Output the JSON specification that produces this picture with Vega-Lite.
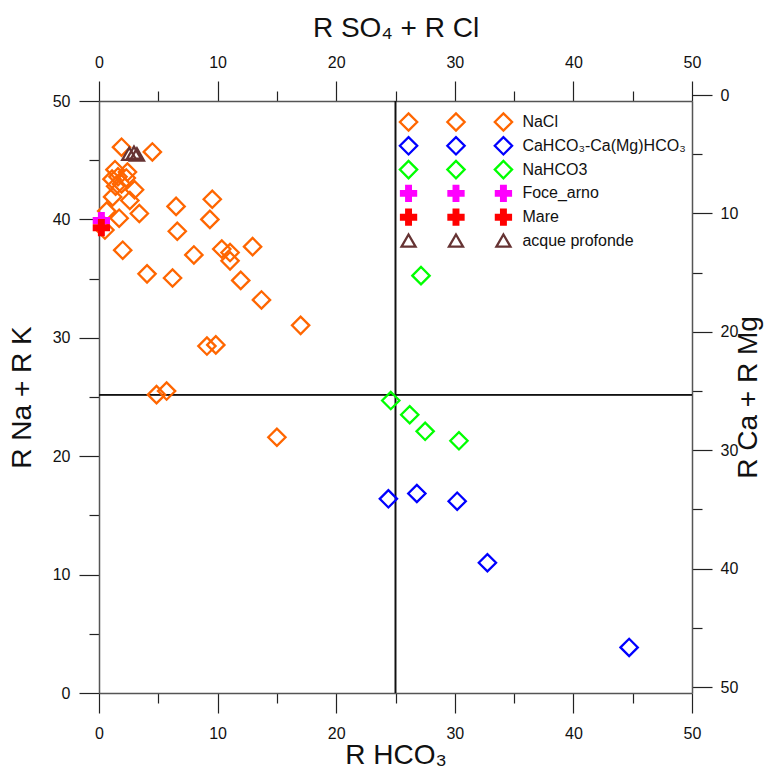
{
  "$schema": "https://vega.github.io/schema/vega-lite/v6.json",
  "width": 593,
  "height": 592,
  "autosize": {"type": "none"},
  "padding": {"left": 99, "top": 101, "right": 81, "bottom": 80},
  "background": "white",
  "config": {
    "view": {"stroke": null},
    "font": "Liberation Sans",
    "axis": {
      "grid": false,
      "domainColor": "#555555",
      "domainWidth": 1.5,
      "tickColor": "#222222",
      "tickWidth": 1.2,
      "labelFont": "Liberation Sans",
      "labelFontSize": 16,
      "labelColor": "#111111",
      "labelFlush": false,
      "titleFont": "Liberation Sans",
      "titleFontSize": 28,
      "titleFontWeight": "normal",
      "titleColor": "#111111"
    }
  },
  "datasets": {
    "points": [
      {"series": "NaCl", "hco3": 1.9, "nak": 46.1},
      {"series": "NaCl", "hco3": 4.5, "nak": 45.7},
      {"series": "NaCl", "hco3": 1.35, "nak": 44.2},
      {"series": "NaCl", "hco3": 2.4, "nak": 44.0},
      {"series": "NaCl", "hco3": 1.1, "nak": 43.4},
      {"series": "NaCl", "hco3": 1.6, "nak": 43.6},
      {"series": "NaCl", "hco3": 1.9, "nak": 43.0},
      {"series": "NaCl", "hco3": 2.3, "nak": 43.5},
      {"series": "NaCl", "hco3": 1.4, "nak": 42.8},
      {"series": "NaCl", "hco3": 3.0, "nak": 42.5},
      {"series": "NaCl", "hco3": 1.15, "nak": 41.9},
      {"series": "NaCl", "hco3": 2.6, "nak": 41.6},
      {"series": "NaCl", "hco3": 3.4, "nak": 40.5},
      {"series": "NaCl", "hco3": 6.5, "nak": 41.1},
      {"series": "NaCl", "hco3": 9.55, "nak": 41.7},
      {"series": "NaCl", "hco3": 9.35, "nak": 40.0},
      {"series": "NaCl", "hco3": 1.7, "nak": 40.1},
      {"series": "NaCl", "hco3": 0.65, "nak": 40.7},
      {"series": "NaCl", "hco3": 0.5, "nak": 39.1},
      {"series": "NaCl", "hco3": 6.6, "nak": 39.0},
      {"series": "NaCl", "hco3": 2.0, "nak": 37.4},
      {"series": "NaCl", "hco3": 8.0, "nak": 37.0},
      {"series": "NaCl", "hco3": 10.35, "nak": 37.5},
      {"series": "NaCl", "hco3": 11.05, "nak": 37.2},
      {"series": "NaCl", "hco3": 11.05, "nak": 36.5},
      {"series": "NaCl", "hco3": 12.95, "nak": 37.7},
      {"series": "NaCl", "hco3": 4.05, "nak": 35.4},
      {"series": "NaCl", "hco3": 6.2, "nak": 35.05},
      {"series": "NaCl", "hco3": 11.95, "nak": 34.85},
      {"series": "NaCl", "hco3": 13.7, "nak": 33.2},
      {"series": "NaCl", "hco3": 17.0, "nak": 31.05},
      {"series": "NaCl", "hco3": 9.1, "nak": 29.3},
      {"series": "NaCl", "hco3": 9.85, "nak": 29.4},
      {"series": "NaCl", "hco3": 4.85, "nak": 25.2},
      {"series": "NaCl", "hco3": 5.7, "nak": 25.5},
      {"series": "NaCl", "hco3": 15.0, "nak": 21.6},
      {"series": "CaHCO₃-Ca(Mg)HCO₃", "hco3": 24.4, "nak": 16.4},
      {"series": "CaHCO₃-Ca(Mg)HCO₃", "hco3": 26.8, "nak": 16.85},
      {"series": "CaHCO₃-Ca(Mg)HCO₃", "hco3": 30.2, "nak": 16.2},
      {"series": "CaHCO₃-Ca(Mg)HCO₃", "hco3": 32.75, "nak": 11.0},
      {"series": "CaHCO₃-Ca(Mg)HCO₃", "hco3": 44.7, "nak": 3.85},
      {"series": "NaHCO3", "hco3": 24.6, "nak": 24.7},
      {"series": "NaHCO3", "hco3": 26.2, "nak": 23.5},
      {"series": "NaHCO3", "hco3": 27.5, "nak": 22.1},
      {"series": "NaHCO3", "hco3": 30.35, "nak": 21.3},
      {"series": "NaHCO3", "hco3": 27.15, "nak": 35.25},
      {"series": "acque profonde", "hco3": 2.55, "nak": 45.5},
      {"series": "acque profonde", "hco3": 2.95, "nak": 45.6},
      {"series": "acque profonde", "hco3": 3.2, "nak": 45.45},
      {"series": "Foce_arno", "hco3": 0.2, "nak": 39.9},
      {"series": "Mare", "hco3": 0.2, "nak": 39.3}
    ],
    "legend": [
      {"series": "NaCl"},
      {"series": "CaHCO₃-Ca(Mg)HCO₃"},
      {"series": "NaHCO3"},
      {"series": "Foce_arno"},
      {"series": "Mare"},
      {"series": "acque profonde"}
    ]
  },
  "layer": [
    {
      "data": {"name": "legend"},
      "mark": {"type": "rule", "color": "#111111", "strokeWidth": 1.2},
      "encoding": {
        "x": {
          "datum": 25,
          "type": "quantitative",
          "scale": {"domain": [0, 50], "nice": false},
          "axis": {
            "orient": "top",
            "title": "R SO₄ + R Cl",
            "values": [0, 5, 10, 15, 20, 25, 30, 35, 40, 45, 50],
            "tickSize": {"condition": {"test": "datum.value % 10 === 0", "value": 20}, "value": 10},
            "labelExpr": "datum.value % 10 === 0 ? datum.label : ''",
            "labelPadding": 11,
            "titlePadding": 12
          }
        }
      }
    },
    {
      "data": {"name": "legend"},
      "mark": {"type": "rule", "color": "#111111", "strokeWidth": 1.2},
      "encoding": {
        "y": {
          "datum": 24.8,
          "type": "quantitative",
          "scale": {"domain": [0, 50], "nice": false, "reverse": true},
          "axis": {
            "orient": "right",
            "title": "R Ca + R Mg",
            "titleAngle": 270,
            "titleBaseline": "top",
            "values": [0, 5, 10, 15, 20, 25, 30, 35, 40, 45, 50],
            "tickSize": {"condition": {"test": "datum.value % 10 === 0", "value": 20}, "value": 10},
            "labelExpr": "datum.value % 10 === 0 ? datum.label : ''",
            "tickOffset": -6,
            "labelPadding": 8,
            "titlePadding": -3
          }
        }
      }
    },
    {
      "data": {"name": "points"},
      "mark": {"type": "point", "strokeWidth": 2.3, "opacity": 1, "size": 300},
      "encoding": {
        "x": {
          "field": "hco3",
          "type": "quantitative",
          "scale": {"domain": [0, 50], "nice": false},
          "axis": {
            "orient": "bottom",
            "title": "R HCO₃",
            "values": [0, 5, 10, 15, 20, 25, 30, 35, 40, 45, 50],
            "tickSize": {"condition": {"test": "datum.value % 10 === 0", "value": 20}, "value": 10},
            "labelExpr": "datum.value % 10 === 0 ? datum.label : ''",
            "labelPadding": 12,
            "titlePadding": 0
          }
        },
        "y": {
          "field": "nak",
          "type": "quantitative",
          "scale": {"domain": [0, 50], "nice": false},
          "axis": {
            "orient": "left",
            "title": "R Na + R K",
            "values": [0, 5, 10, 15, 20, 25, 30, 35, 40, 45, 50],
            "tickSize": {"condition": {"test": "datum.value % 10 === 0", "value": 20}, "value": 10},
            "labelExpr": "datum.value % 10 === 0 ? datum.label : ''",
            "labelPadding": 9,
            "titlePadding": 16
          }
        },
        "shape": {"field": "series", "type": "nominal", "legend": null, "scale": {"domain": ["NaCl", "CaHCO₃-Ca(Mg)HCO₃", "NaHCO3", "Foce_arno", "Mare", "acque profonde"], "range": ["diamond", "diamond", "diamond", "cross", "cross", "M0,-0.75L0.81,0.65L-0.81,0.65Z"]}},
        "stroke": {"field": "series", "type": "nominal", "legend": null, "scale": {"domain": ["NaCl", "CaHCO₃-Ca(Mg)HCO₃", "NaHCO3", "Foce_arno", "Mare", "acque profonde"], "range": ["#FF6600", "#0000FF", "#00FF00", "transparent", "transparent", "#663333"]}},
        "fill": {"field": "series", "type": "nominal", "legend": null, "scale": {"domain": ["NaCl", "CaHCO₃-Ca(Mg)HCO₃", "NaHCO3", "Foce_arno", "Mare", "acque profonde"], "range": ["transparent", "transparent", "transparent", "#FF00FF", "#FF0000", "transparent"]}}
      }
    },
    {
      "data": {"name": "legend"},
      "mark": {"type": "point", "strokeWidth": 2.3, "opacity": 1, "size": 300},
      "encoding": {
        "x": {"datum": 26.1, "type": "quantitative", "scale": {"domain": [0, 50], "nice": false}, "axis": null},
        "y": {"field": "series", "type": "nominal", "sort": null, "scale": {"domain": ["NaCl", "CaHCO₃-Ca(Mg)HCO₃", "NaHCO3", "Foce_arno", "Mare", "acque profonde"], "range": [21, 140], "padding": 0}, "axis": null},
        "shape": {"field": "series", "type": "nominal", "legend": null},
        "stroke": {"field": "series", "type": "nominal", "legend": null},
        "fill": {"field": "series", "type": "nominal", "legend": null}
      }
    },
    {
      "data": {"name": "legend"},
      "mark": {"type": "point", "strokeWidth": 2.3, "opacity": 1, "size": 300},
      "encoding": {
        "x": {"datum": 30.1, "type": "quantitative", "scale": {"domain": [0, 50], "nice": false}, "axis": null},
        "y": {"field": "series", "type": "nominal", "sort": null, "scale": {"domain": ["NaCl", "CaHCO₃-Ca(Mg)HCO₃", "NaHCO3", "Foce_arno", "Mare", "acque profonde"], "range": [21, 140], "padding": 0}, "axis": null},
        "shape": {"field": "series", "type": "nominal", "legend": null},
        "stroke": {"field": "series", "type": "nominal", "legend": null},
        "fill": {"field": "series", "type": "nominal", "legend": null}
      }
    },
    {
      "data": {"name": "legend"},
      "mark": {"type": "point", "strokeWidth": 2.3, "opacity": 1, "size": 300},
      "encoding": {
        "x": {"datum": 34.1, "type": "quantitative", "scale": {"domain": [0, 50], "nice": false}, "axis": null},
        "y": {"field": "series", "type": "nominal", "sort": null, "scale": {"domain": ["NaCl", "CaHCO₃-Ca(Mg)HCO₃", "NaHCO3", "Foce_arno", "Mare", "acque profonde"], "range": [21, 140], "padding": 0}, "axis": null},
        "shape": {"field": "series", "type": "nominal", "legend": null},
        "stroke": {"field": "series", "type": "nominal", "legend": null},
        "fill": {"field": "series", "type": "nominal", "legend": null}
      }
    },
    {
      "data": {"name": "legend"},
      "mark": {"type": "text", "align": "left", "baseline": "middle", "fontSize": 16, "font": "Liberation Sans", "color": "#111111"},
      "encoding": {
        "x": {"datum": 35.7, "type": "quantitative", "scale": {"domain": [0, 50], "nice": false}, "axis": null},
        "y": {"field": "series", "type": "nominal", "sort": null, "scale": {"domain": ["NaCl", "CaHCO₃-Ca(Mg)HCO₃", "NaHCO3", "Foce_arno", "Mare", "acque profonde"], "range": [21, 140], "padding": 0}, "axis": null},
        "text": {"field": "series", "type": "nominal"}
      }
    }
  ],
  "resolve": {"scale": {"x": "independent", "y": "independent"}}
}
